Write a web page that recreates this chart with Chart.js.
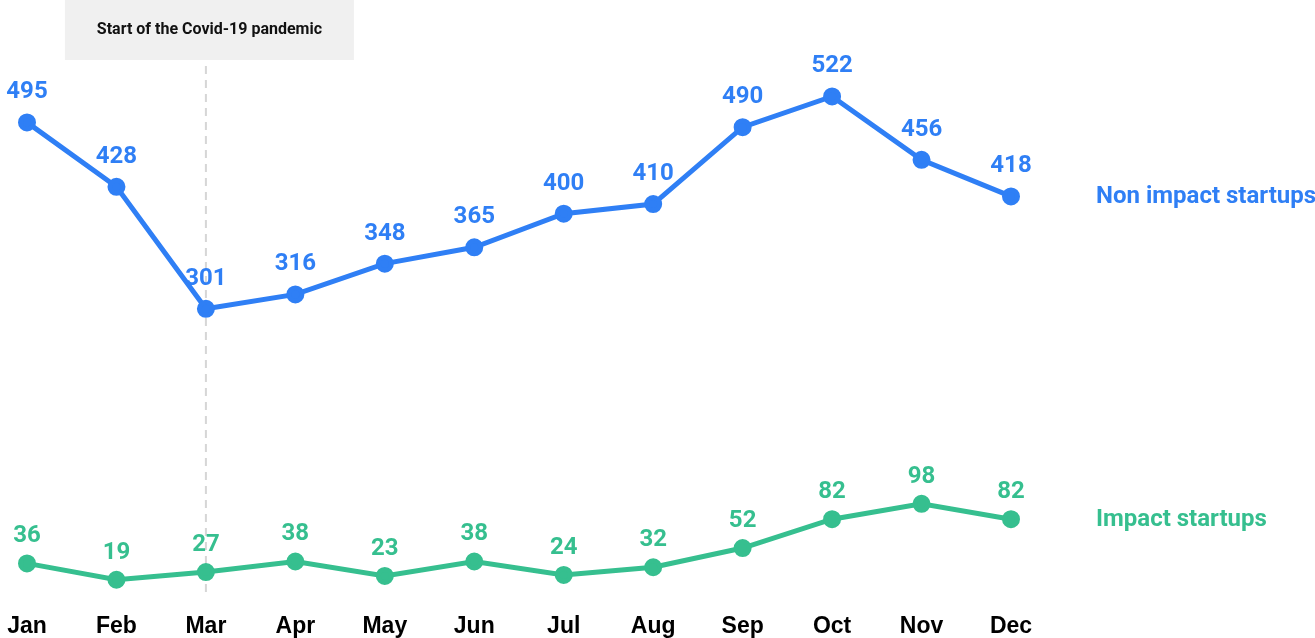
<!DOCTYPE html>
<html>
<head>
<meta charset="utf-8">
<script src="https://cdn.jsdelivr.net/npm/chart.js@4"></script>
<style>
  html, body { margin: 0; padding: 0; background: #fff; }
  #wrap { width: 1315px; height: 638px; position: relative; }
</style>
</head>
<body>
<div id="wrap"><canvas id="chart"></canvas></div>
<script>
const months = ['Jan', 'Feb', 'Mar', 'Apr', 'May', 'Jun', 'Jul', 'Aug', 'Sep', 'Oct', 'Nov', 'Dec'];
const nonImpact = [495, 428, 301, 316, 348, 365, 400, 410, 490, 522, 456, 418];
const impact = [36, 19, 27, 38, 23, 38, 24, 32, 52, 82, 98, 82];
const seriesNames = ['Non impact startups', 'Impact startups'];
const eventMonth = 'Mar';
const eventText = 'Start of the Covid-19 pandemic';

const blue = '#2F7FF5';
const green = '#36BF8F';

// value labels, end-of-line names, and the covid marker
const decorations = {
    id: 'decorations',
    beforeDatasetsDraw(chart) {
        const ctx = chart.ctx;
        const x = chart.scales.x.getPixelForValue(months.indexOf(eventMonth));
        ctx.save();
        ctx.fillStyle = '#F0F0F0';
        ctx.fillRect(x - 141, 0, 289, 60);
        ctx.fillStyle = '#111';
        ctx.font = 'bold 16px Roboto';
        ctx.textAlign = 'center';
        ctx.textBaseline = 'middle';
        ctx.fillText(eventText, x + 3.5, 30);
        ctx.strokeStyle = '#D6D6D6';
        ctx.lineWidth = 2;
        ctx.setLineDash([8, 6]);
        ctx.beginPath();
        ctx.moveTo(x, 66);
        ctx.lineTo(x, chart.scales.y.getPixelForValue(0));
        ctx.stroke();
        ctx.restore();
    },
    afterDatasetsDraw(chart) {
        const ctx = chart.ctx;
        ctx.save();
        ctx.textAlign = 'center';
        ctx.textBaseline = 'middle';
        chart.data.datasets.forEach((ds, i) => {
            const meta = chart.getDatasetMeta(i);
            const lift = i === 0 ? 30 : 27;
            ctx.fillStyle = ds.borderColor;
            ctx.font = 'bold 24px Roboto';
            meta.data.forEach((pt, j) => {
                ctx.fillText(ds.data[j], pt.x, pt.y - lift);
            });
            const last = meta.data[meta.data.length - 1];
            ctx.textAlign = 'left';
            ctx.fillText(seriesNames[i], last.x + 85, last.y + 1);
            ctx.textAlign = 'center';
        });
        ctx.restore();
    }
};

new Chart(document.getElementById('chart'), {
    type: 'line',
    data: {
        labels: months,
        datasets: [{
            label: seriesNames[0],
            data: nonImpact,
            borderColor: blue,
            backgroundColor: blue,
            borderWidth: 5,
            pointRadius: 6.5,
            pointHoverRadius: 6.5,
            tension: 0
        }, {
            label: seriesNames[1],
            data: impact,
            borderColor: green,
            backgroundColor: green,
            borderWidth: 5,
            pointRadius: 6.5,
            pointHoverRadius: 6.5,
            tension: 0
        }]
    },
    options: {
        responsive: true,
        maintainAspectRatio: false,
        animation: false,
        layout: { autoPadding: false, padding: { left: 27, right: 304, top: 2, bottom: -4 } },
        plugins: {
            legend: { display: false },
            tooltip: { enabled: false }
        },
        scales: {
            x: {
                offset: false,
                grid: { display: false, drawTicks: false },
                border: { display: false },
                ticks: {
                    color: '#000',
                    padding: 2,
                    maxRotation: 0,
                    autoSkip: false,
                    font: { family: 'Liberation Sans', weight: 'bold', size: 23 }
                }
            },
            y: {
                display: false,
                min: -12.9,
                max: 620.3
            }
        }
    },
    plugins: [decorations]
});
</script>
</body>
</html>
